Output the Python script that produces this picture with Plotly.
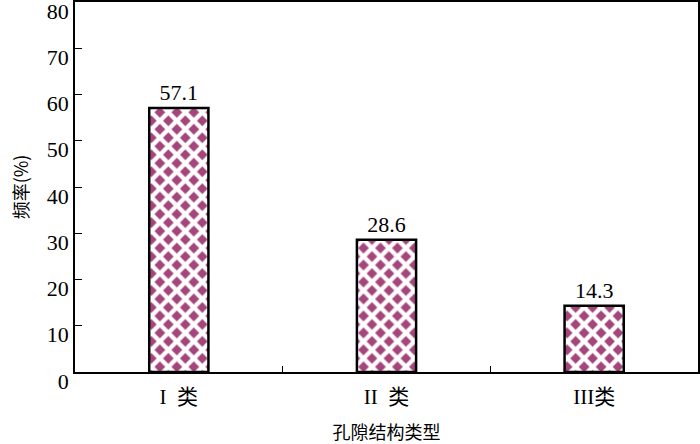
import plotly.graph_objects as go

categories = ["I  类", "II  类", "III类"]
freq = [57.1, 28.6, 14.3]
freq_labels = ["57.1", "28.6", "14.3"]
y_ticks = [0, 10, 20, 30, 40, 50, 60, 70, 80]

serif = "Liberation Serif, serif"
cjk = "Noto Sans CJK SC"

fig = go.Figure(
    go.Bar(
        x=categories,
        y=freq,
        text=freq_labels,
        textposition="outside",
        textfont=dict(family=serif, size=22, color="black"),
        cliponaxis=False,
        marker=dict(
            color="#a4457c",
            line=dict(color="black", width=2.5),
            pattern=dict(shape="x", fgcolor="white", bgcolor="#a4457c",
                         size=12, solidity=0.6, fillmode="replace"),
        ),
        width=0.285,
    )
)

fig.update_layout(
    width=700, height=444,
    margin=dict(l=75, r=2, t=2, b=72),
    plot_bgcolor="white", paper_bgcolor="white",
    showlegend=False,
    font=dict(family=serif, color="black"),
)

fig.update_xaxes(
    range=[-0.5, 2.5], automargin=False, ticklabelstandoff=5,
    showline=True, linecolor="black", linewidth=1.5, mirror=True,
    ticks="inside", tickson="boundaries", ticklen=6, tickcolor="black",
    tickfont=dict(family="Liberation Serif, " + cjk, size=21),
    title=dict(text="孔隙结构类型", font=dict(family=cjk, size=18), standoff=24),
)
fig.update_yaxes(
    range=[0, 80], tickvals=y_ticks, automargin=False, ticklabeloverflow="allow",
    ticklabelshift=9,
    showline=True, linecolor="black", linewidth=1.5, mirror=True,
    ticks="inside", ticklen=7, tickcolor="black", showgrid=False, zeroline=False,
    tickfont=dict(family=serif, size=22),
    title=dict(text="频率(%)", font=dict(family=cjk, size=18), standoff=14),
)

# page body has a default margin; drop it so the figure sits at the window origin
fig.write_html("out.html", config={"displayModeBar": False},
               post_script="document.body.style.margin='0px';")
